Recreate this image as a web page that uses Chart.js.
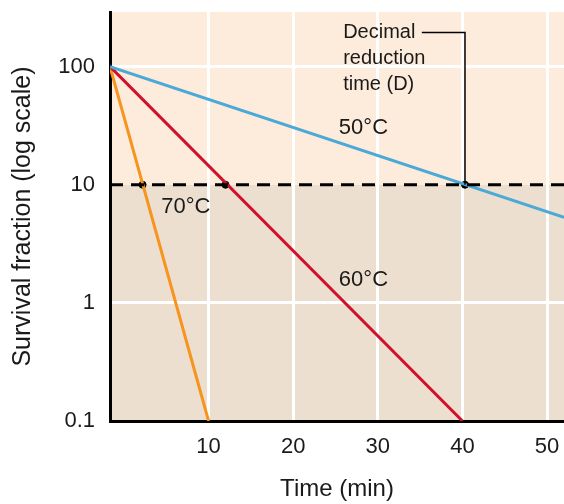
<!DOCTYPE html>
<html>
<head>
<meta charset="utf-8">
<script src="https://cdn.jsdelivr.net/npm/chart.js@4.4.1/dist/chart.umd.min.js"></script>
<style>
  html, body { margin: 0; padding: 0; background: #fff; }
  #wrap { width: 564px; height: 504px; }
  canvas { display: block; }
</style>
</head>
<body>
<div id="wrap"><canvas id="survChart" width="564" height="504"></canvas></div>
<script>
// values
const X_MIN = -1.65, X_MAX = 52;
const Y_MIN = 0.1, Y_MAX = 290;
const xTicks = [10, 20, 30, 40, 50];
const yTicks = [0.1, 1, 10, 100];

const t70 = [-1.65, 10];
const s70 = [100, 0.1];
const t60 = [-1.65, 40];
const s60 = [100, 0.1];
const t50 = [-1.65, 52];
const s50 = [100, 5.3];

const D_LEVEL = 10;
const dTimes = [2.2, 12, 40.3];

// callout from the text to the 50°C D point
const calloutT = [35.2, 40.3, 40.3];
const calloutS = [194, 194, 10];

const tempLabels = ["70°C", "60°C", "50°C"];
const tempLabelT = [7.3, 28.3, 28.3];
const tempLabelS = [6.5, 1.57, 30.4];
const noteLines = ["Decimal", "reduction", "time (D)"];
const noteT = 25.9, noteS = 194;

const FONT = "'Liberation Sans', Arial, Helvetica, sans-serif";
const INK = "#1a1a1a";

function pts(xs, ys) {
    return xs.map((x, i) => ({ x: x, y: ys[i] }));
}

const bgPlugin = {
    id: "bands",
    beforeDraw(chart) {
        const { ctx, chartArea: a, scales } = chart;
        const yD = scales.y.getPixelForValue(D_LEVEL);
        ctx.save();
        ctx.fillStyle = "#fdebdb";
        ctx.fillRect(a.left, a.top, a.right - a.left, yD - a.top);
        ctx.fillStyle = "#eddfcf";
        ctx.fillRect(a.left, yD, a.right - a.left, a.bottom - yD);
        ctx.restore();
    },
    afterDraw(chart) {
        const { ctx, scales } = chart;
        ctx.save();
        ctx.fillStyle = INK;
        ctx.font = "22px " + FONT;
        ctx.textBaseline = "middle";
        ctx.textAlign = "center";
        tempLabels.forEach((txt, i) => {
            ctx.fillText(txt, scales.x.getPixelForValue(tempLabelT[i]), scales.y.getPixelForValue(tempLabelS[i]));
        });
        ctx.font = "20px " + FONT;
        ctx.textAlign = "left";
        const nx = scales.x.getPixelForValue(noteT);
        const ny = scales.y.getPixelForValue(noteS);
        noteLines.forEach((txt, i) => {
            ctx.fillText(txt, nx, ny + i * 26);
        });
        ctx.restore();
    }
};

const ctx = document.getElementById("survChart").getContext("2d");

const survChart = new Chart(ctx, {
    type: "scatter",
    data: {
        datasets: [
            {
                label: "D level",
                data: pts([X_MIN, X_MAX], [D_LEVEL, D_LEVEL]),
                showLine: true,
                borderColor: "#000",
                borderWidth: 3,
                borderDash: [13, 8],
                pointRadius: 0
            },
            {
                label: "callout",
                data: pts(calloutT, calloutS),
                showLine: true,
                borderColor: "#000",
                borderWidth: 1.5,
                pointRadius: 0
            },
            {
                label: "50°C",
                data: pts(t50, s50),
                showLine: true,
                borderColor: "#4aa9d6",
                borderWidth: 3,
                pointRadius: 0
            },
            {
                label: "60°C",
                data: pts(t60, s60),
                showLine: true,
                borderColor: "#d0112b",
                borderWidth: 3,
                pointRadius: 0
            },
            {
                label: "70°C",
                data: pts(t70, s70),
                showLine: true,
                borderColor: "#f7941d",
                borderWidth: 3,
                pointRadius: 0
            },
            {
                label: "D points",
                data: dTimes.map(t => ({ x: t, y: D_LEVEL })),
                showLine: false,
                pointRadius: 3.5,
                pointBackgroundColor: "#000",
                pointBorderColor: "#000",
                pointBorderWidth: 1
            }
        ]
    },
    options: {
        responsive: false,
        animation: false,
        layout: { autoPadding: false, padding: { top: 12, right: 0, left: 0, bottom: 0 } },
        plugins: {
            legend: { display: false },
            tooltip: { enabled: false }
        },
        scales: {
            x: {
                type: "linear",
                min: X_MIN,
                max: X_MAX,
                afterBuildTicks: s => { s.ticks = xTicks.map(v => ({ value: v })); },
                afterFit: s => { s.height = 83; s.paddingLeft = 0; s.paddingRight = 0; },
                grid: { color: "#ffffff", lineWidth: 3, drawTicks: false },
                border: { display: true, color: "#000", width: 3 },
                ticks: { color: INK, font: { family: FONT, size: 22 }, padding: 13, maxRotation: 0 },
                title: {
                    display: true,
                    text: "Time (min)",
                    color: INK,
                    font: { family: FONT, size: 24 },
                    padding: { top: 0, bottom: 0 }
                }
            },
            y: {
                type: "logarithmic",
                min: Y_MIN,
                max: Y_MAX,
                afterBuildTicks: s => { s.ticks = yTicks.map(v => ({ value: v })); },
                afterFit: s => { s.width = 110; s.paddingTop = 0; s.paddingBottom = 0; },
                grid: {
                    color: c => (c.tick && (c.tick.value === D_LEVEL || c.tick.value === Y_MIN)) ? "rgba(0,0,0,0)" : "#ffffff",
                    lineWidth: 3,
                    drawTicks: false
                },
                border: { display: true, color: "#000", width: 3 },
                ticks: {
                    color: INK,
                    font: { family: FONT, size: 22 },
                    padding: 15,
                    callback: v => String(v)
                },
                title: {
                    display: true,
                    text: "Survival fraction (log scale)",
                    color: INK,
                    font: { family: FONT, size: 25 },
                    padding: { top: 8, bottom: 0 }
                }
            }
        }
    },
    plugins: [bgPlugin]
});
</script>
</body>
</html>
